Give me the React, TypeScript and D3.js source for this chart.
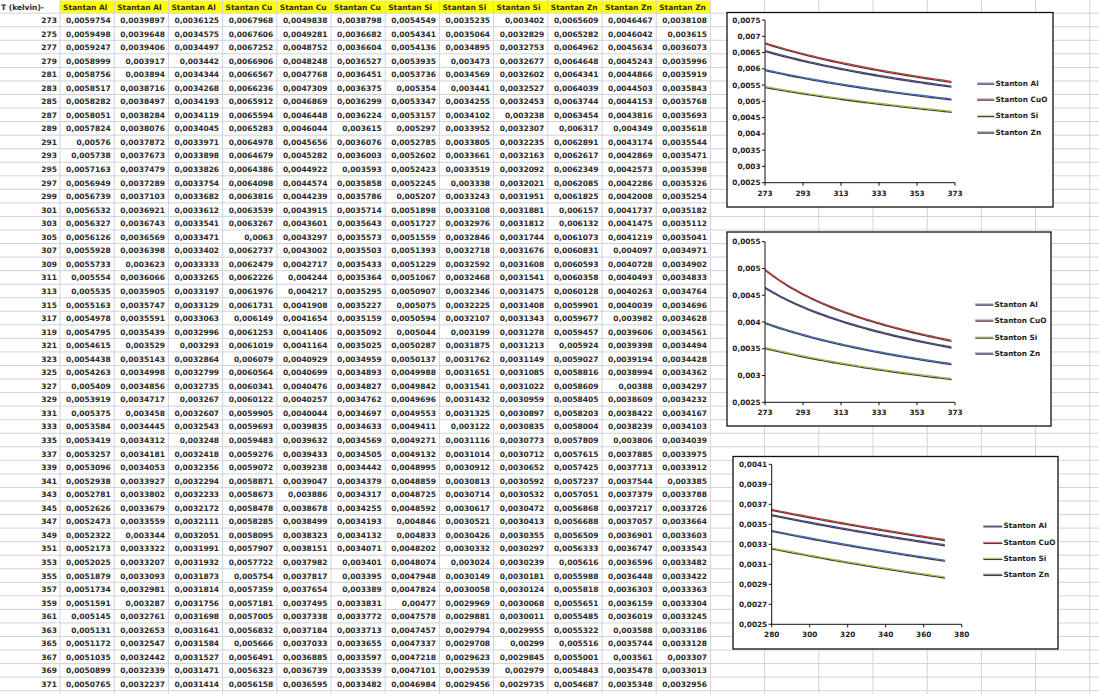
import React from 'react';
import * as d3 from 'd3';

// Temperature column (kelvin)
const TEMPS = [273, 275, 277, 279, 281, 283, 285, 287, 289, 291, 293, 295, 297, 299, 301, 303, 305, 307, 309, 311, 313, 315, 317, 319, 321, 323, 325, 327, 329, 331, 333, 335, 337, 339, 341, 343, 345, 347, 349, 351, 353, 355, 357, 359, 361, 363, 365, 367, 369, 371];

const AL_A = [0.0059754, 0.0059498, 0.0059247, 0.0058999, 0.0058756, 0.0058517, 0.0058282, 0.0058051, 0.0057824, 0.00576, 0.005738, 0.0057163, 0.0056949, 0.0056739, 0.0056532, 0.0056327, 0.0056126, 0.0055928, 0.0055733, 0.005554, 0.005535, 0.0055163, 0.0054978, 0.0054795, 0.0054615, 0.0054438, 0.0054263, 0.005409, 0.0053919, 0.005375, 0.0053584, 0.0053419, 0.0053257, 0.0053096, 0.0052938, 0.0052781, 0.0052626, 0.0052473, 0.0052322, 0.0052173, 0.0052025, 0.0051879, 0.0051734, 0.0051591, 0.005145, 0.005131, 0.0051172, 0.0051035, 0.0050899, 0.0050765];
const AL_B = [0.0039897, 0.0039648, 0.0039406, 0.003917, 0.003894, 0.0038716, 0.0038497, 0.0038284, 0.0038076, 0.0037872, 0.0037673, 0.0037479, 0.0037289, 0.0037103, 0.0036921, 0.0036743, 0.0036569, 0.0036398, 0.003623, 0.0036066, 0.0035905, 0.0035747, 0.0035591, 0.0035439, 0.003529, 0.0035143, 0.0034998, 0.0034856, 0.0034717, 0.003458, 0.0034445, 0.0034312, 0.0034181, 0.0034053, 0.0033927, 0.0033802, 0.0033679, 0.0033559, 0.003344, 0.0033322, 0.0033207, 0.0033093, 0.0032981, 0.003287, 0.0032761, 0.0032653, 0.0032547, 0.0032442, 0.0032339, 0.0032237];
const AL_C = [0.0036125, 0.0034575, 0.0034497, 0.003442, 0.0034344, 0.0034268, 0.0034193, 0.0034119, 0.0034045, 0.0033971, 0.0033898, 0.0033826, 0.0033754, 0.0033682, 0.0033612, 0.0033541, 0.0033471, 0.0033402, 0.0033333, 0.0033265, 0.0033197, 0.0033129, 0.0033063, 0.0032996, 0.003293, 0.0032864, 0.0032799, 0.0032735, 0.003267, 0.0032607, 0.0032543, 0.003248, 0.0032418, 0.0032356, 0.0032294, 0.0032233, 0.0032172, 0.0032111, 0.0032051, 0.0031991, 0.0031932, 0.0031873, 0.0031814, 0.0031756, 0.0031698, 0.0031641, 0.0031584, 0.0031527, 0.0031471, 0.0031414];
const CU_A = [0.0067968, 0.0067606, 0.0067252, 0.0066906, 0.0066567, 0.0066236, 0.0065912, 0.0065594, 0.0065283, 0.0064978, 0.0064679, 0.0064386, 0.0064098, 0.0063816, 0.0063539, 0.0063267, 0.0063, 0.0062737, 0.0062479, 0.0062226, 0.0061976, 0.0061731, 0.006149, 0.0061253, 0.0061019, 0.006079, 0.0060564, 0.0060341, 0.0060122, 0.0059905, 0.0059693, 0.0059483, 0.0059276, 0.0059072, 0.0058871, 0.0058673, 0.0058478, 0.0058285, 0.0058095, 0.0057907, 0.0057722, 0.005754, 0.0057359, 0.0057181, 0.0057005, 0.0056832, 0.005666, 0.0056491, 0.0056323, 0.0056158];
const CU_B = [0.0049838, 0.0049281, 0.0048752, 0.0048248, 0.0047768, 0.0047309, 0.0046869, 0.0046448, 0.0046044, 0.0045656, 0.0045282, 0.0044922, 0.0044574, 0.0044239, 0.0043915, 0.0043601, 0.0043297, 0.0043002, 0.0042717, 0.004244, 0.004217, 0.0041908, 0.0041654, 0.0041406, 0.0041164, 0.0040929, 0.0040699, 0.0040476, 0.0040257, 0.0040044, 0.0039835, 0.0039632, 0.0039433, 0.0039238, 0.0039047, 0.003886, 0.0038678, 0.0038499, 0.0038323, 0.0038151, 0.0037982, 0.0037817, 0.0037654, 0.0037495, 0.0037338, 0.0037184, 0.0037033, 0.0036885, 0.0036739, 0.0036595];
const CU_C = [0.0038798, 0.0036682, 0.0036604, 0.0036527, 0.0036451, 0.0036375, 0.0036299, 0.0036224, 0.003615, 0.0036076, 0.0036003, 0.003593, 0.0035858, 0.0035786, 0.0035714, 0.0035643, 0.0035573, 0.0035503, 0.0035433, 0.0035364, 0.0035295, 0.0035227, 0.0035159, 0.0035092, 0.0035025, 0.0034959, 0.0034893, 0.0034827, 0.0034762, 0.0034697, 0.0034633, 0.0034569, 0.0034505, 0.0034442, 0.0034379, 0.0034317, 0.0034255, 0.0034193, 0.0034132, 0.0034071, 0.003401, 0.003395, 0.003389, 0.0033831, 0.0033772, 0.0033713, 0.0033655, 0.0033597, 0.0033539, 0.0033482];
const SI_A = [0.0054549, 0.0054341, 0.0054136, 0.0053935, 0.0053736, 0.005354, 0.0053347, 0.0053157, 0.005297, 0.0052785, 0.0052602, 0.0052423, 0.0052245, 0.005207, 0.0051898, 0.0051727, 0.0051559, 0.0051393, 0.0051229, 0.0051067, 0.0050907, 0.005075, 0.0050594, 0.005044, 0.0050287, 0.0050137, 0.0049988, 0.0049842, 0.0049696, 0.0049553, 0.0049411, 0.0049271, 0.0049132, 0.0048995, 0.0048859, 0.0048725, 0.0048592, 0.004846, 0.004833, 0.0048202, 0.0048074, 0.0047948, 0.0047824, 0.00477, 0.0047578, 0.0047457, 0.0047337, 0.0047218, 0.0047101, 0.0046984];
const SI_B = [0.0035235, 0.0035064, 0.0034895, 0.003473, 0.0034569, 0.003441, 0.0034255, 0.0034102, 0.0033952, 0.0033805, 0.0033661, 0.0033519, 0.003338, 0.0033243, 0.0033108, 0.0032976, 0.0032846, 0.0032718, 0.0032592, 0.0032468, 0.0032346, 0.0032225, 0.0032107, 0.003199, 0.0031875, 0.0031762, 0.0031651, 0.0031541, 0.0031432, 0.0031325, 0.003122, 0.0031116, 0.0031014, 0.0030912, 0.0030813, 0.0030714, 0.0030617, 0.0030521, 0.0030426, 0.0030332, 0.003024, 0.0030149, 0.0030058, 0.0029969, 0.0029881, 0.0029794, 0.0029708, 0.0029623, 0.0029539, 0.0029456];
const SI_C = [0.003402, 0.0032829, 0.0032753, 0.0032677, 0.0032602, 0.0032527, 0.0032453, 0.003238, 0.0032307, 0.0032235, 0.0032163, 0.0032092, 0.0032021, 0.0031951, 0.0031881, 0.0031812, 0.0031744, 0.0031676, 0.0031608, 0.0031541, 0.0031475, 0.0031408, 0.0031343, 0.0031278, 0.0031213, 0.0031149, 0.0031085, 0.0031022, 0.0030959, 0.0030897, 0.0030835, 0.0030773, 0.0030712, 0.0030652, 0.0030592, 0.0030532, 0.0030472, 0.0030413, 0.0030355, 0.0030297, 0.0030239, 0.0030181, 0.0030124, 0.0030068, 0.0030011, 0.0029955, 0.00299, 0.0029845, 0.002979, 0.0029735];
const ZN_A = [0.0065609, 0.0065282, 0.0064962, 0.0064648, 0.0064341, 0.0064039, 0.0063744, 0.0063454, 0.006317, 0.0062891, 0.0062617, 0.0062349, 0.0062085, 0.0061825, 0.006157, 0.006132, 0.0061073, 0.0060831, 0.0060593, 0.0060358, 0.0060128, 0.0059901, 0.0059677, 0.0059457, 0.005924, 0.0059027, 0.0058816, 0.0058609, 0.0058405, 0.0058203, 0.0058004, 0.0057809, 0.0057615, 0.0057425, 0.0057237, 0.0057051, 0.0056868, 0.0056688, 0.0056509, 0.0056333, 0.005616, 0.0055988, 0.0055818, 0.0055651, 0.0055485, 0.0055322, 0.005516, 0.0055001, 0.0054843, 0.0054687];
const ZN_B = [0.0046467, 0.0046042, 0.0045634, 0.0045243, 0.0044866, 0.0044503, 0.0044153, 0.0043816, 0.004349, 0.0043174, 0.0042869, 0.0042573, 0.0042286, 0.0042008, 0.0041737, 0.0041475, 0.0041219, 0.004097, 0.0040728, 0.0040493, 0.0040263, 0.0040039, 0.003982, 0.0039606, 0.0039398, 0.0039194, 0.0038994, 0.00388, 0.0038609, 0.0038422, 0.0038239, 0.003806, 0.0037885, 0.0037713, 0.0037544, 0.0037379, 0.0037217, 0.0037057, 0.0036901, 0.0036747, 0.0036596, 0.0036448, 0.0036303, 0.0036159, 0.0036019, 0.003588, 0.0035744, 0.003561, 0.0035478, 0.0035348];
const ZN_C = [0.0038108, 0.003615, 0.0036073, 0.0035996, 0.0035919, 0.0035843, 0.0035768, 0.0035693, 0.0035618, 0.0035544, 0.0035471, 0.0035398, 0.0035326, 0.0035254, 0.0035182, 0.0035112, 0.0035041, 0.0034971, 0.0034902, 0.0034833, 0.0034764, 0.0034696, 0.0034628, 0.0034561, 0.0034494, 0.0034428, 0.0034362, 0.0034297, 0.0034232, 0.0034167, 0.0034103, 0.0034039, 0.0033975, 0.0033912, 0.003385, 0.0033788, 0.0033726, 0.0033664, 0.0033603, 0.0033543, 0.0033482, 0.0033422, 0.0033363, 0.0033304, 0.0033245, 0.0033186, 0.0033128, 0.003307, 0.0033013, 0.0032956];

const FIRST_HEADER = 'T (kelvin)-';
const HEADERS = ['Stantan Al', 'Stantan Al', 'Stantan Al', 'Stantan Cu', 'Stantan Cu', 'Stantan Cu', 'Stantan Si', 'Stantan Si', 'Stantan Si', 'Stantan Zn', 'Stantan Zn', 'Stantan Zn'];
const TABLE_COLUMNS = [AL_A, AL_B, AL_C, CU_A, CU_B, CU_C, SI_A, SI_B, SI_C, ZN_A, ZN_B, ZN_C];

const LEGEND_LABELS = ['Stanton Al', 'Stanton CuO', 'Stanton Si', 'Stanton Zn'];

const X_TICKS_A = [273, 293, 313, 333, 353, 373];
const X_TICKS_C = [280, 300, 320, 340, 360, 380];
const Y_TICKS_1 = [0.0025, 0.003, 0.0035, 0.004, 0.0045, 0.005, 0.0055, 0.006, 0.0065, 0.007, 0.0075];
const Y_TICKS_2 = [0.0025, 0.003, 0.0035, 0.004, 0.0045, 0.005, 0.0055];
const Y_TICKS_3 = [0.0025, 0.0027, 0.0029, 0.0031, 0.0033, 0.0035, 0.0037, 0.0039, 0.0041];

// ---- layout & styling ----
const W = 1099;
const H = 694;
const COL_A = 60;
const COL_W = 54.2;
const HEAD_H = 13.2;
const ROW_H = 13.55;
const FONT = "'DejaVu Sans', Verdana, sans-serif";
const GRID = '#cfd3da';
const SERIES_COLORS = ['#4868bb', '#bf3c3a', '#a3b845', '#4f4589'];

const fmt = (v: number) => String(v).replace('.', ',');

type ChartSpec = {
  id: string;
  box: [number, number, number, number];
  left: number;
  right: number;
  top: number;
  bottom: number;
  xDomain: [number, number];
  yDomain: [number, number];
  xTicks: number[];
  yTicks: number[];
  series: number[][];
  legendX1: number;
  legendX2: number;
  legendYs: number[];
};

const CHARTS: ChartSpec[] = [
  {
    id: 'c1', box: [727, 12.5, 1053, 207], left: 765, right: 955, top: 20, bottom: 182.7,
    xDomain: [273, 373], yDomain: [0.0025, 0.0075], xTicks: X_TICKS_A, yTicks: Y_TICKS_1,
    series: [AL_A, CU_A, SI_A, ZN_A], legendX1: 977, legendX2: 994, legendYs: [83, 99, 115.5, 132],
  },
  {
    id: 'c2', box: [727, 232, 1051, 426], left: 765, right: 955, top: 241.7, bottom: 402.3,
    xDomain: [273, 373], yDomain: [0.0025, 0.0055], xTicks: X_TICKS_A, yTicks: Y_TICKS_2,
    series: [AL_B, CU_B, SI_B, ZN_B], legendX1: 975, legendX2: 993, legendYs: [304, 320, 337, 353],
  },
  {
    id: 'c3', box: [733, 456.5, 1058, 649], left: 771.7, right: 961.7, top: 464.3, bottom: 624.3,
    xDomain: [280, 380], yDomain: [0.0025, 0.0041], xTicks: X_TICKS_C, yTicks: Y_TICKS_3,
    series: [AL_C, CU_C, SI_C, ZN_C], legendX1: 983, legendX2: 1002, legendYs: [525.7, 542.3, 558.3, 574.3],
  },
];

function Sheet() {
  const nCols = Math.ceil((W - COL_A) / COL_W) + 1;
  const vLines = d3.range(nCols).map((k) => COL_A + k * COL_W);
  const hLines = d3.range(TEMPS.length + 2).map((i) => HEAD_H + i * ROW_H);
  const tableRight = COL_A + HEADERS.length * COL_W;
  return (
    <g fontFamily={FONT} fontWeight="bold" fontSize={7.5} fill="#2a2a2a">
      <rect x={COL_A} y={0.5} width={tableRight - COL_A} height={HEAD_H - 1} fill="#ffff00" />
      {hLines.map((y, i) => (
        <line key={`h${i}`} x1={0} x2={W} y1={y} y2={y} stroke={GRID} strokeWidth={1} />
      ))}
      {vLines.map((x, i) => (
        <line key={`v${i}`} x1={x} x2={x} y1={0} y2={H} stroke={GRID} strokeWidth={1} />
      ))}
      <text x={1} y={HEAD_H - 3}>{FIRST_HEADER}</text>
      {HEADERS.map((h, j) => (
        <text key={`hd${j}`} x={COL_A + j * COL_W + 3} y={HEAD_H - 3}>{h}</text>
      ))}
      {TEMPS.map((t, i) => {
        const yb = HEAD_H + (i + 1) * ROW_H - 3.8;
        return (
          <g key={`r${t}`}>
            <text x={COL_A - 3} y={yb} textAnchor="end">{t}</text>
            {TABLE_COLUMNS.map((col, j) => (
              <text key={j} x={COL_A + (j + 1) * COL_W - 3.5} y={yb} textAnchor="end">{fmt(col[i])}</text>
            ))}
          </g>
        );
      })}
    </g>
  );
}

function SeriesPath({ d, color, dark = false }: { d: string; color: string; dark?: boolean }) {
  return (
    <g>
      <path d={d} fill="none" stroke="#1c1c1c" strokeWidth={1.3} transform="translate(0.4,1.1)" strokeOpacity={0.85} />
      <path d={d} fill="none" stroke={color} strokeWidth={1.3} strokeOpacity={dark ? 0.55 : 1} />
    </g>
  );
}

function Chart({ spec }: { spec: ChartSpec }) {
  const x = d3.scaleLinear().domain(spec.xDomain).range([spec.left, spec.right]);
  const y = d3.scaleLinear().domain(spec.yDomain).range([spec.bottom, spec.top]);
  const line = d3
    .line<number>()
    .x((_, i) => x(TEMPS[i]))
    .y((v) => y(v));
  const [bx0, by0, bx1, by1] = spec.box;
  return (
    <g fontFamily={FONT} fontWeight="bold" fontSize={7.3} fill="#1e1e1e">
      <defs>
        <clipPath id={`clip-${spec.id}`}>
          <rect x={spec.left} y={spec.top - 4} width={spec.right - spec.left + 4} height={spec.bottom - spec.top + 4} />
        </clipPath>
      </defs>
      <rect x={bx0} y={by0} width={bx1 - bx0} height={by1 - by0} fill="#ffffff" stroke="#111" strokeWidth={1.3} />
      <g clipPath={`url(#clip-${spec.id})`}>
        {spec.series.map((s, k) => (
          <SeriesPath key={k} d={line(s) || ''} color={SERIES_COLORS[k]} />
        ))}
      </g>
      {/* axes */}
      <line x1={spec.left} x2={spec.left} y1={spec.top} y2={spec.bottom} stroke="#111" strokeWidth={1} />
      <line x1={spec.left} x2={spec.right} y1={spec.bottom} y2={spec.bottom} stroke="#111" strokeWidth={1} />
      {spec.yTicks.map((t) => (
        <g key={`y${t}`}>
          <line x1={spec.left - 3} x2={spec.left} y1={y(t)} y2={y(t)} stroke="#111" />
          <text x={spec.left - 4.5} y={y(t)} dy="0.35em" textAnchor="end">{fmt(t)}</text>
        </g>
      ))}
      {spec.xTicks.map((t) => (
        <g key={`x${t}`}>
          <line x1={x(t)} x2={x(t)} y1={spec.bottom} y2={spec.bottom + 3} stroke="#111" />
          <text x={x(t)} y={spec.bottom + 13} textAnchor="middle">{t}</text>
        </g>
      ))}
      {LEGEND_LABELS.map((lab, k) => (
        <g key={lab}>
          <SeriesPath d={`M${spec.legendX1},${spec.legendYs[k]}H${spec.legendX2}`} color={SERIES_COLORS[k]} dark />
          <text x={spec.legendX2 + 1.5} y={spec.legendYs[k]} dy="0.35em">{lab}</text>
        </g>
      ))}
    </g>
  );
}

export default function App() {
  return (
    <div style={{ position: 'fixed', left: 0, top: 0, width: W, height: H, background: '#fff' }}>
      <svg width={W} height={H} viewBox={`0 0 ${W} ${H}`} style={{ display: 'block' }}>
        <rect width={W} height={H} fill="#ffffff" />
        <Sheet />
        {CHARTS.map((c) => (
          <Chart key={c.id} spec={c} />
        ))}
      </svg>
    </div>
  );
}
